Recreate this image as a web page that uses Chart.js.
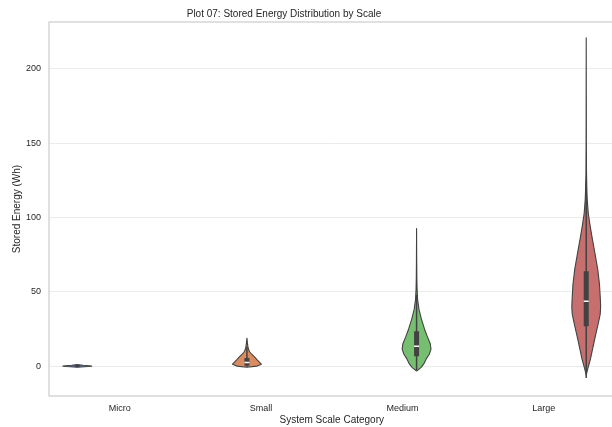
<!DOCTYPE html>
<html lang="en">
<head>
    <meta charset="UTF-8">
    <title>Plot 07: Stored Energy Distribution by Scale</title>
    <script src="https://cdn.jsdelivr.net/npm/chart.js"></script>
    <style>
        html, body {
            margin: 0;
            padding: 0;
            background: #ffffff;
            overflow: hidden;
        }

        /* a bit wider than the window so the right frame edge falls outside, like the original */
        #chart-wrap {
            width: 620px;
            height: 427px;
        }
    </style>
</head>
<body>
    <div id="chart-wrap">
        <canvas id="violinChart"></canvas>
    </div>

    <script>
        // ---- data ----
        const categories = ['Micro', 'Small', 'Medium', 'Large'];
        const yTicks = [0, 50, 100, 150, 200];

        // violin outlines: stored energy (Wh) and relative density at that level
        const microEnergy = [-0.8, -0.4, 0, 0.3, 0.6, 1.0];
        const microDensity = [0, 0.5, 1, 0.8, 0.4, 0];

        const smallEnergy = [-0.8, 0, 1.3, 3, 4.5, 6, 8, 9.5, 11, 13, 15, 17, 18.8];
        const smallDensity = [0, 0.7, 1, 0.83, 0.68, 0.54, 0.33, 0.2, 0.12, 0.07, 0.04, 0.02, 0];

        const mediumEnergy = [-3.4, -1, 1.5, 4.7, 8, 11.4, 15, 20, 25, 31.5, 38, 45, 52, 60, 70, 80, 92.6];
        const mediumDensity = [0, 0.3, 0.5, 0.66, 0.88, 1.0, 0.95, 0.74, 0.55, 0.34, 0.17, 0.07, 0.035, 0.018, 0.01, 0.005, 0];

        const largeEnergy = [-6, -2, 5, 12, 20, 28, 35, 40, 45, 55, 65, 75, 87, 95, 103, 112, 120, 130, 150, 180, 220.8];
        const largeDensity = [0, 0.1, 0.3, 0.45, 0.63, 0.82, 0.97, 1.0, 0.98, 0.92, 0.8, 0.62, 0.4, 0.26, 0.14, 0.07, 0.04, 0.02, 0.01, 0.006, 0];

        // inner box stats
        const q1Values = [-0.2, 0.3, 6.7, 26.8];
        const medianValues = [0.1, 2.5, 13.4, 43.6];
        const q3Values = [0.4, 5.5, 23.5, 63.8];
        const whiskerLow = [-0.8, -0.5, -3, -8];
        const whiskerHigh = [1.0, 13, 48, 124];

        // ---- styling ----
        const fillColors = ['#597dbf', '#da8b5f', '#76bf71', '#c76e6e'];
        const lineColor = '#424242';
        const textColor = '#262626';
        const fontFamily = '"Liberation Sans", Arial, sans-serif';
        const halfWidth = 0.102;   // max violin half width in x units
        const spread = 1.2;        // violins sit a little wider apart than the tick labels

        const energies = [microEnergy, smallEnergy, mediumEnergy, largeEnergy];
        const densities = [microDensity, smallDensity, mediumDensity, largeDensity];

        function violinCenter(i) {
            return 1.5 + (i - 1.5) * spread;
        }

        // right side going up, left side coming back down -> closed outline
        function violinOutline(yArr, dArr, pos) {
            const right = yArr.map((y, k) => ({ x: pos + dArr[k] * halfWidth, y: y }));
            const left = yArr.map((y, k) => ({ x: pos - dArr[k] * halfWidth, y: y })).reverse();
            return right.concat(left);
        }

        const datasets = [];

        categories.forEach((cat, i) => {
            const pos = violinCenter(i);

            // a "solid" dash keeps Chart.js off its x-sorted fast path (the outline doubles back)
            datasets.push({
                label: cat,
                data: violinOutline(energies[i], densities[i], pos),
                showLine: true,
                fill: 'shape',
                backgroundColor: fillColors[i],
                borderColor: lineColor,
                borderWidth: 1.1,
                borderDash: [5000, 0],
                borderJoinStyle: 'round',
                pointRadius: 0,
                tension: 0,
                order: 3
            });

            // whisker
            datasets.push({
                data: [{ x: pos, y: whiskerLow[i] }, { x: pos, y: whiskerHigh[i] }],
                showLine: true,
                borderColor: lineColor,
                borderWidth: 1.5,
                pointRadius: 0,
                order: 2
            });

            // interquartile box
            datasets.push({
                data: [{ x: pos, y: q1Values[i] }, { x: pos, y: q3Values[i] }],
                showLine: true,
                borderColor: lineColor,
                borderWidth: 5,
                borderCapStyle: 'butt',
                pointRadius: 0,
                order: 1
            });

            // median mark
            datasets.push({
                data: [{ x: pos, y: medianValues[i] }],
                showLine: false,
                pointStyle: 'line',
                pointRadius: 2.5,
                pointBorderColor: i === 0 ? lineColor : '#ffffff',
                pointBorderWidth: 1.5,
                order: 0
            });
        });

        // light frame round the plot area
        const framePlugin = {
            id: 'plotFrame',
            beforeDatasetsDraw(chart) {
                const { ctx, chartArea } = chart;
                ctx.save();
                ctx.strokeStyle = '#cccccc';
                ctx.lineWidth = 1.2;
                ctx.strokeRect(chartArea.left, chartArea.top, chartArea.right - chartArea.left, chartArea.bottom - chartArea.top);
                ctx.restore();
            }
        };

        // title sits left of the plot centre in the original
        const titlePlugin = {
            id: 'plotTitle',
            afterDraw(chart) {
                const ctx = chart.ctx;
                ctx.save();
                ctx.font = '10px ' + fontFamily;
                ctx.fillStyle = textColor;
                ctx.textAlign = 'center';
                ctx.textBaseline = 'alphabetic';
                ctx.fillText('Plot 07: Stored Energy Distribution by Scale', 284, 17);
                ctx.restore();
            }
        };

        const ctx = document.getElementById('violinChart').getContext('2d');
        new Chart(ctx, {
            type: 'scatter',
            data: { datasets: datasets },
            plugins: [framePlugin, titlePlugin],
            options: {
                responsive: true,
                maintainAspectRatio: false,
                animation: false,
                layout: { padding: { top: 22, right: 4, bottom: 0, left: 0 } },
                plugins: {
                    legend: { display: false },
                    tooltip: { enabled: false }
                },
                scales: {
                    x: {
                        type: 'linear',
                        min: -0.5,
                        max: 3.5,
                        afterBuildTicks: (scale) => {
                            scale.ticks = categories.map((c, i) => ({ value: i }));
                        },
                        afterFit: (scale) => { scale.height = 31; },
                        grid: { display: false, drawTicks: false },
                        border: { display: false },
                        ticks: {
                            autoSkip: false,
                            maxRotation: 0,
                            padding: 7,
                            color: textColor,
                            font: { family: fontFamily, size: 9 },
                            callback: (value) => categories[value]
                        },
                        title: {
                            display: true,
                            text: 'System Scale Category',
                            color: textColor,
                            font: { family: fontFamily, size: 10 },
                            padding: { top: 0, bottom: 1 }
                        }
                    },
                    y: {
                        min: -20.1,
                        max: 231.5,
                        afterBuildTicks: (scale) => {
                            scale.ticks = yTicks.map(v => ({ value: v }));
                        },
                        afterFit: (scale) => { scale.width = 49; },
                        grid: { color: '#ebebeb', lineWidth: 1, drawTicks: false },
                        border: { display: false },
                        ticks: {
                            padding: 8,
                            color: textColor,
                            font: { family: fontFamily, size: 9 }
                        },
                        title: {
                            display: true,
                            text: 'Stored Energy (Wh)',
                            color: textColor,
                            font: { family: fontFamily, size: 10 },
                            padding: { top: 11, bottom: 0 }
                        }
                    }
                }
            }
        });
    </script>
</body>
</html>
